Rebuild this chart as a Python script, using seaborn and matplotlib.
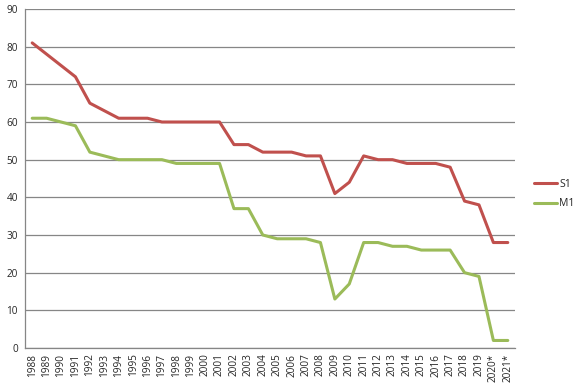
import matplotlib
matplotlib.use("Agg")
import matplotlib.pyplot as plt
import seaborn as sns
import pandas as pd
import numpy as np

years = ["1988","1989","1990","1991","1992","1993","1994","1995","1996","1997",
         "1998","1999","2000","2001","2002","2003","2004","2005","2006","2007",
         "2008","2009","2010","2011","2012","2013","2014","2015","2016","2017",
         "2018","2019","2020*","2021*"]
s1 = [81,78,75,72,65,63,61,61,61,60,60,60,60,60,54,54,52,52,52,51,51,41,44,51,50,50,49,49,49,48,39,38,28,28]
m1 = [61,61,60,59,52,51,50,50,50,50,49,49,49,49,37,37,30,29,29,29,28,13,17,28,28,27,27,26,26,26,20,19,2,2]
series_names = ["S1", "M1"]
colors = ["#C0504D", "#9BBB59"]

sns.set_style("white")
plt.rcParams['font.family'] = ['Open Sans', 'DejaVu Sans']

df = pd.DataFrame({
    "pos": list(range(len(years))) * 2,
    "value": s1 + m1,
    "series": [series_names[0]] * len(years) + [series_names[1]] * len(years),
})

fig = plt.figure(figsize=(5.81, 3.89), dpi=100)
ax = fig.add_axes([25/581, 1 - 348/389, 490/581, (348-9)/389])
sns.lineplot(data=df, x="pos", y="value", hue="series", palette=colors,
             linewidth=2.2, ax=ax, legend=False)

ax.set_xlim(-0.5, len(years) - 0.5)
ax.set_ylim(0, 90)
ax.set_yticks(range(0, 91, 10))
ax.tick_params(axis="y", labelsize=7.2, length=3, color="#868686", direction="out", pad=2)
ax.set_xticks(range(len(years)))
ax.set_xticklabels(years, rotation=90, fontsize=7.2)
ax.tick_params(axis="x", which="major", length=0, pad=4)
ax.set_xticks(np.arange(-0.5, len(years), 1.0), minor=True)
ax.tick_params(axis="x", which="minor", length=3, color="#868686", direction="out")
ax.grid(axis="y", color="#868686", linewidth=0.9)
ax.set_axisbelow(True)
for sp in ["top", "right"]:
    ax.spines[sp].set_visible(False)
for sp in ["left", "bottom"]:
    ax.spines[sp].set_color("#868686")
    ax.spines[sp].set_linewidth(0.9)
ax.set_xlabel("")
ax.set_ylabel("")

from matplotlib.lines import Line2D
handles = [Line2D([0], [0], color=c, linewidth=2.2) for c in colors]
fig.legend(handles, series_names, loc="center left", bbox_to_anchor=(525/581, 1 - 194/389),
           frameon=False, fontsize=7.5, handlelength=2.2, handletextpad=0.2, labelspacing=0.8)

fig.savefig("out.png", dpi=100)
